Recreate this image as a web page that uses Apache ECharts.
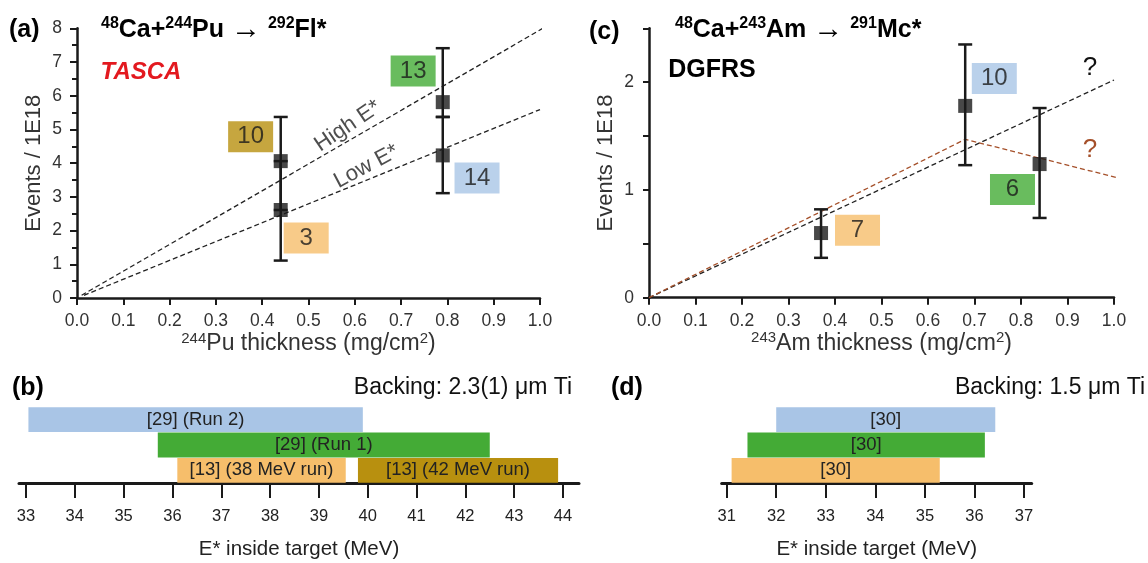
<!DOCTYPE html>
<html><head><meta charset="utf-8">
<script src="https://cdn.jsdelivr.net/npm/echarts@6/dist/echarts.min.js"></script>
<style>html,body{margin:0;padding:0;background:#fff}#c{width:1148px;height:563px}</style>
</head><body><div id="c"></div>
<script>
// ---------- DATA ----------
// Panel (a): 48Ca+244Pu (TASCA)
const aThickness = [0.44, 0.44, 0.79, 0.79];
const aEvents    = [4.06, 2.61, 5.81, 4.23];
const aErrLow    = [2.61, 1.11, 5.37, 3.11];
const aErrHigh   = [5.37, 4.06, 7.41, 5.37];
const aHighLineX = [0.01, 1.01];
const aHighLineY = [0.08, 8.03];
const aLowLineX  = [0.015, 1.0];
const aLowLineY  = [0.08, 5.59];
const aBoxText   = ['10', '3', '13', '14'];

// Panel (c): 48Ca+243Am (DGFRS)
const cThickness = [0.37, 0.68, 0.84];
const cEvents    = [0.60, 1.78, 1.24];
const cErrLow    = [0.37, 1.23, 0.74];
const cErrHigh   = [0.82, 2.35, 1.76];
const cBlackLineX = [0, 1.0];
const cBlackLineY = [0, 2.02];
const cBrownLineX = [0, 0.68, 1.01];
const cBrownLineY = [0, 1.47, 1.11];
const cBoxText   = ['10', '6', '7'];

// Panel (b): energy ranges
const bLabels = ['[29] (Run 2)', '[29] (Run 1)', '[13] (38 MeV run)', '[13] (42 MeV run)'];
const bStart  = [33.05, 35.7, 36.1, 39.8];
const bEnd    = [39.9, 42.5, 39.55, 43.9];
const bRow    = [0, 1, 2, 2];
const bTicks  = [33, 34, 35, 36, 37, 38, 39, 40, 41, 42, 43, 44];

// Panel (d): energy ranges
const dLabels = ['[30]', '[30]', '[30]'];
const dStart  = [32.0, 31.42, 31.1];
const dEnd    = [36.42, 36.21, 35.3];
const dRow    = [0, 1, 2];
const dTicks  = [31, 32, 33, 34, 35, 36, 37];

// ---------- STYLE / ANNOTATION ANCHORS ----------
const BLUE = '#a9c5e6', GREEN = '#44ab36', ORANGE = '#f6be6b', GOLD = '#b8900f';
const aBoxColors = [GOLD, ORANGE, GREEN, BLUE];
const aBoxAnchor = [[0.375, 4.78], [0.495, 1.78], [0.726, 6.73], [0.864, 3.56]];
const cBoxColors = [BLUE, GREEN, ORANGE];
const cBoxAnchor = [[0.7426, 2.034], [0.7817, 1.004], [0.4484, 0.627]];
const bColors = [BLUE, GREEN, ORANGE, GOLD];
const dColors = [BLUE, GREEN, ORANGE];
const FONT = '"Liberation Sans", Arial, sans-serif';
const INK = '#1a1a1a', TXT = '#333';

const zip = (xs, ys) => xs.map((x, i) => [x, ys[i]]);

function errRender(params, api) {
  const x = api.value(0), lo = api.value(1), hi = api.value(2);
  const p1 = api.coord([x, lo]), p2 = api.coord([x, hi]);
  const w = 7, st = { stroke: INK, lineWidth: 2.5 };
  return { type: 'group', children: [
    { type: 'line', shape: { x1: p1[0], y1: p1[1], x2: p2[0], y2: p2[1] }, style: st },
    { type: 'line', shape: { x1: p1[0] - w, y1: p1[1], x2: p1[0] + w, y2: p1[1] }, style: st },
    { type: 'line', shape: { x1: p2[0] - w, y1: p2[1], x2: p2[0] + w, y2: p2[1] }, style: st }
  ]};
}
function rangeRender(colors, labels) {
  return function (params, api) {
    const s = api.value(0), e = api.value(1), r = api.value(2);
    const p1 = api.coord([s, r]), p2 = api.coord([e, r]);
    const h = api.size([0, 1])[1] * 0.98;
    return {
      type: 'rect',
      shape: { x: p1[0], y: p1[1] - h / 2, width: p2[0] - p1[0], height: h },
      style: { fill: colors[params.dataIndex] },
      textContent: { style: { text: labels[params.dataIndex], fill: '#222', fontSize: 18.5, fontFamily: FONT } },
      textConfig: { position: 'inside' }
    };
  };
}

const supRich = {
  s: { fontSize: 15, verticalAlign: 'top', lineHeight: 15, color: TXT, fontFamily: FONT },
  n: { fontSize: 23, lineHeight: 26, color: TXT, fontFamily: FONT }
};
const titleRich = {
  s: { fontSize: 16, fontWeight: 'bold', verticalAlign: 'top', lineHeight: 16, fill: '#000', fontFamily: FONT },
  m: { fontSize: 25, fontWeight: 'bold', lineHeight: 29, fill: '#000', fontFamily: FONT },
  a: { fontSize: 30, lineHeight: 29, fill: '#000', fontFamily: FONT }
};

function valueXAxis(gi, name) {
  return {
    gridIndex: gi, type: 'value', min: 0, max: 1, interval: 0.1,
    axisLine: { show: true, onZero: false, lineStyle: { color: INK, width: 2.5 } },
    axisTick: { show: true, length: 7, lineStyle: { color: INK, width: 2 } },
    axisLabel: { fontSize: 17.5, color: TXT, margin: 14, fontFamily: FONT, formatter: v => v.toFixed(1) },
    splitLine: { show: false },
    name: name, nameLocation: 'middle', nameGap: 33,
    nameTextStyle: { rich: supRich }
  };
}
function energyXAxis(gi, min, max, ticks) {
  return {
    gridIndex: gi, type: 'value', min: min, max: max,
    axisLine: { show: true, onZero: false, lineStyle: { color: INK, width: 3 } },
    axisTick: { show: true, length: 15, customValues: ticks, lineStyle: { color: INK, width: 2 } },
    axisLabel: { show: true, fontSize: 16.5, color: '#222', margin: 25, fontFamily: FONT, customValues: ticks },
    splitLine: { show: false },
    name: 'E* inside target (MeV)', nameLocation: 'middle', nameGap: 56,
    nameTextStyle: { fontSize: 20.5, color: '#222', fontFamily: FONT }
  };
}
function rowYAxis(gi) {
  return { gridIndex: gi, type: 'category', data: ['0', '1', '2'], inverse: true,
    axisLine: { show: false }, axisTick: { show: false }, axisLabel: { show: false }, splitLine: { show: false } };
}

const chart = echarts.init(document.getElementById('c'), null, { renderer: 'canvas' });
chart.setOption({
  animation: false,
  backgroundColor: '#fff',
  textStyle: { fontFamily: FONT },
  grid: [
    { left: 77, top: 28.3, width: 463, height: 269.7 },
    { left: 649, top: 28.3, width: 465, height: 269.4 },
    { left: 19, top: 407, width: 560, height: 76 },
    { left: 721.7, top: 407, width: 310, height: 76 }
  ],
  xAxis: [
    valueXAxis(0, '{s|244}{n|Pu thickness (mg/cm}{s|2}{n|)}'),
    valueXAxis(1, '{s|243}{n|Am thickness (mg/cm}{s|2}{n|)}'),
    energyXAxis(2, 32.857, 44.328, bTicks),
    energyXAxis(3, 30.9, 37.155, dTicks)
  ],
  yAxis: [
    {
      gridIndex: 0, type: 'value', min: 0, max: 8, interval: 1,
      axisLine: { show: true, lineStyle: { color: INK, width: 2.5 } },
      axisTick: { show: true, length: 7, lineStyle: { color: INK, width: 2 } },
      minorTick: { show: true, splitNumber: 2, length: 5, lineStyle: { color: INK, width: 2 } },
      axisLabel: { fontSize: 17.5, color: TXT, margin: 15, fontFamily: FONT },
      splitLine: { show: false },
      name: 'Events / 1E18', nameLocation: 'middle', nameGap: 32,
      nameTextStyle: { fontSize: 22, color: TXT, fontFamily: FONT }
    },
    {
      gridIndex: 1, type: 'value', min: 0, max: 2.5, interval: 0.5,
      axisLine: { show: true, lineStyle: { color: INK, width: 2.5 } },
      axisTick: { show: true, length: 6, lineStyle: { color: INK, width: 2 } },
      axisLabel: { fontSize: 17.5, color: TXT, margin: 15, fontFamily: FONT,
        formatter: v => (Math.abs(v - Math.round(v)) < 1e-9 ? String(Math.round(v)) : '') },
      splitLine: { show: false },
      name: 'Events / 1E18', nameLocation: 'middle', nameGap: 32,
      nameTextStyle: { fontSize: 22, color: TXT, fontFamily: FONT }
    },
    rowYAxis(2),
    rowYAxis(3)
  ],
  series: [
    // ---- panel (a)
    { type: 'line', xAxisIndex: 0, yAxisIndex: 0, data: zip(aHighLineX, aHighLineY), symbol: 'none', clip: false,
      lineStyle: { type: [5, 3], width: 1.3, color: '#222' }, z: 2 },
    { type: 'line', xAxisIndex: 0, yAxisIndex: 0, data: zip(aLowLineX, aLowLineY), symbol: 'none', clip: false,
      lineStyle: { type: [5, 3], width: 1.3, color: '#222' }, z: 2 },
    { type: 'custom', xAxisIndex: 0, yAxisIndex: 0, renderItem: errRender,
      data: aThickness.map((x, i) => [x, aErrLow[i], aErrHigh[i]]), z: 3 },
    { type: 'scatter', xAxisIndex: 0, yAxisIndex: 0, symbol: 'rect', symbolSize: 14,
      itemStyle: { color: INK }, data: zip(aThickness, aEvents), z: 4 },
    { type: 'scatter', xAxisIndex: 0, yAxisIndex: 0, symbol: 'rect', symbolSize: [45, 31], z: 5,
      data: aBoxText.map((t, i) => ({ value: aBoxAnchor[i], name: t, itemStyle: { color: aBoxColors[i] } })),
      label: { show: true, position: 'inside', formatter: p => p.name, fontSize: 24, color: '#1a1a1a', fontFamily: FONT } },
    { type: 'scatter', xAxisIndex: 0, yAxisIndex: 0, symbolSize: 0, z: 5,
      data: [{ value: [0.585, 5.1], name: 'High E*', label: { rotate: 34 } },
             { value: [0.625, 3.9], name: 'Low E*', label: { rotate: 28 } }],
      label: { show: true, position: 'inside', formatter: p => p.name, fontSize: 22, color: '#222', fontFamily: FONT } },
    // ---- panel (c)
    { type: 'line', xAxisIndex: 1, yAxisIndex: 1, data: zip(cBlackLineX, cBlackLineY), symbol: 'none', clip: false,
      lineStyle: { type: [5, 3], width: 1.3, color: '#222' }, z: 2 },
    { type: 'line', xAxisIndex: 1, yAxisIndex: 1, data: zip(cBrownLineX, cBrownLineY), symbol: 'none', clip: false,
      lineStyle: { type: [5, 3], width: 1.3, color: '#a5502a' }, z: 2 },
    { type: 'custom', xAxisIndex: 1, yAxisIndex: 1, renderItem: errRender,
      data: cThickness.map((x, i) => [x, cErrLow[i], cErrHigh[i]]), z: 3 },
    { type: 'scatter', xAxisIndex: 1, yAxisIndex: 1, symbol: 'rect', symbolSize: 14,
      itemStyle: { color: INK }, data: zip(cThickness, cEvents), z: 4 },
    { type: 'scatter', xAxisIndex: 1, yAxisIndex: 1, symbol: 'rect', symbolSize: [45, 31], z: 5,
      data: cBoxText.map((t, i) => ({ value: cBoxAnchor[i], name: t, itemStyle: { color: cBoxColors[i] } })),
      label: { show: true, position: 'inside', formatter: p => p.name, fontSize: 24, color: '#1a1a1a', fontFamily: FONT } },
    // ---- panel (b)
    { type: 'custom', xAxisIndex: 2, yAxisIndex: 2, renderItem: rangeRender(bColors, bLabels),
      data: bStart.map((s, i) => [s, bEnd[i], bRow[i]]) },
    // ---- panel (d)
    { type: 'custom', xAxisIndex: 3, yAxisIndex: 3, renderItem: rangeRender(dColors, dLabels),
      data: dStart.map((s, i) => [s, dEnd[i], dRow[i]]) }
  ],
  graphic: [
    { type: 'text', x: 9, y: 30, style: { text: '(a)', fontSize: 25, fontWeight: 'bold', fill: '#000', fontFamily: FONT, verticalAlign: 'middle' } },
    { type: 'text', x: 101, y: 30, style: { text: '{s|48}{m|Ca+}{s|244}{m|Pu }{a|→}{m| }{s|292}{m|Fl*}', rich: titleRich, verticalAlign: 'middle' } },
    { type: 'text', x: 141, y: 72, style: { text: 'TASCA', fontSize: 24, fontWeight: 'bold', fontStyle: 'italic', fill: '#e3191f', fontFamily: FONT, align: 'center', verticalAlign: 'middle' } },
    { type: 'text', x: 589, y: 32, style: { text: '(c)', fontSize: 25, fontWeight: 'bold', fill: '#000', fontFamily: FONT, verticalAlign: 'middle' } },
    { type: 'text', x: 675, y: 30, style: { text: '{s|48}{m|Ca+}{s|243}{m|Am }{a|→}{m| }{s|291}{m|Mc*}', rich: titleRich, verticalAlign: 'middle' } },
    { type: 'text', x: 712, y: 70, style: { text: 'DGFRS', fontSize: 25, fontWeight: 'bold', fill: '#000', fontFamily: FONT, align: 'center', verticalAlign: 'middle' } },
    { type: 'text', x: 1090, y: 68, style: { text: '?', fontSize: 26, fill: '#111', fontFamily: FONT, align: 'center', verticalAlign: 'middle' } },
    { type: 'text', x: 1090, y: 150, style: { text: '?', fontSize: 26, fill: '#a5502a', fontFamily: FONT, align: 'center', verticalAlign: 'middle' } },
    { type: 'text', x: 12, y: 388, style: { text: '(b)', fontSize: 25, fontWeight: 'bold', fill: '#000', fontFamily: FONT, verticalAlign: 'middle' } },
    { type: 'text', x: 572, y: 388, style: { text: 'Backing: 2.3(1) μm Ti', fontSize: 23, fill: '#111', fontFamily: FONT, align: 'right', verticalAlign: 'middle' } },
    { type: 'text', x: 611, y: 388, style: { text: '(d)', fontSize: 25, fontWeight: 'bold', fill: '#000', fontFamily: FONT, verticalAlign: 'middle' } },
    { type: 'text', x: 1145, y: 388, style: { text: 'Backing: 1.5 μm Ti', fontSize: 23, fill: '#111', fontFamily: FONT, align: 'right', verticalAlign: 'middle' } }
  ]
});
</script></body></html>
